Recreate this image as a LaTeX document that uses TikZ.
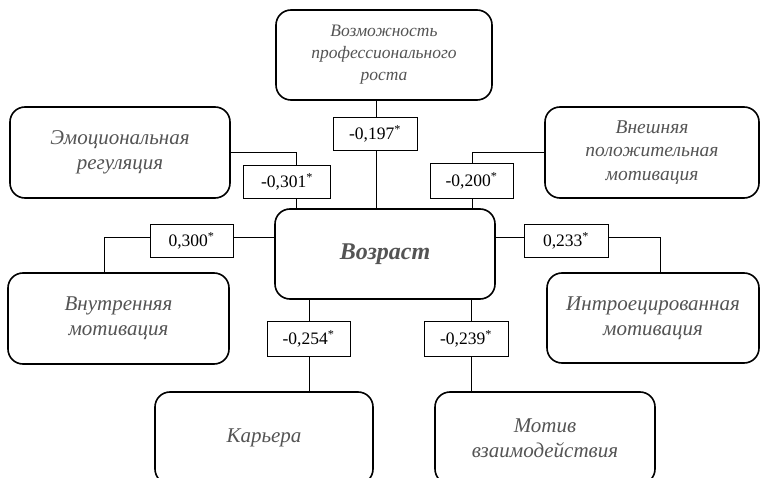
\documentclass[tikz,border=0pt]{standalone}
\usepackage{fontspec}
\setmainfont{Liberation Serif}
\definecolor{txtgray}{gray}{0.33}
\begin{document}
\begin{tikzpicture}[x=1pt,y=-1pt,
  bigbox/.style={draw, line width=1.6pt, rounded corners=15pt, fill=white, align=center,
    text=txtgray, font=\itshape\fontsize{21}{25}\selectfont, inner sep=0pt},
  numbox/.style={draw, line width=0.8pt, fill=white, inner sep=0pt,
    font=\fontsize{17.5}{20}\selectfont, text=black},
  conn/.style={line width=0.8pt}]
\useasboundingbox (0,0) rectangle (760,478);
\coordinate (c301) at (296,0);
\coordinate (c200) at (472,0);
\coordinate (c197) at (376,0);
\coordinate (c300) at (104,237);
\coordinate (c233) at (660,237);
\coordinate (c254) at (309,0);
\coordinate (c239) at (471,0);
% main nodes
\node[bigbox, minimum width=216pt, minimum height=90pt, font=\itshape\fontsize{17.5}{22}\selectfont] (grow) at (384,55) {Возможность\\профессионального\\роста};
\node[bigbox, minimum width=220pt, minimum height=91pt] (emo) at (120,152.5) {Эмоциональная\\регуляция};
\node[bigbox, minimum width=214pt, minimum height=91pt, font=\itshape\fontsize{19.5}{23.5}\selectfont] (ext) at (652,152.5) {Внешняя\\положительная\\мотивация};
\node[bigbox, minimum width=220pt, minimum height=90pt, font=\bfseries\itshape\fontsize{24}{28}\selectfont] (age) at (385,254) {Возраст};
\node[bigbox, minimum width=221pt, minimum height=91pt] (inn) at (118.5,318.5) {Внутренняя\\мотивация};
\node[bigbox, minimum width=212pt, minimum height=90pt] (intro) at (653,318) {Интроецированная\\мотивация};
\node[bigbox, minimum width=218pt, minimum height=92pt] (car) at (264,438) {Карьера};
\node[bigbox, minimum width=220pt, minimum height=92pt] (mot) at (545,438) {Мотив\\взаимодействия};
% connectors
\draw[conn] (age.north -| c197) -- (grow.south -| c197);
\draw[conn] (emo.east) -| (age.north -| c301);
\draw[conn] (ext.west) -| (age.north -| c200);
\draw[conn] (age.west |- c300) -- (c300) -- (inn.north -| c300);
\draw[conn] (age.east |- c233) -- (c233) -- (intro.north -| c233);
\draw[conn] (age.south -| c254) -- (car.north -| c254);
\draw[conn] (age.south -| c239) -- (mot.north -| c239);
% number boxes
\node[numbox, minimum width=84pt, minimum height=33pt] (n197) at (375,133.5) {-0,197\textsuperscript{*}};
\node[numbox, minimum width=87pt, minimum height=33pt] (n301) at (287,181.5) {-0,301\textsuperscript{*}};
\node[numbox, minimum width=83pt, minimum height=35pt] (n200) at (471.5,181) {-0,200\textsuperscript{*}};
\node[numbox, minimum width=83pt, minimum height=33pt] (n300) at (191.5,240.5) {0,300\textsuperscript{*}};
\node[numbox, minimum width=84pt, minimum height=33pt] (n233) at (566,240.5) {0,233\textsuperscript{*}};
\node[numbox, minimum width=83pt, minimum height=35pt] (n254) at (308.5,338.5) {-0,254\textsuperscript{*}};
\node[numbox, minimum width=84pt, minimum height=35pt] (n239) at (466,338.5) {-0,239\textsuperscript{*}};
\end{tikzpicture}
\end{document}
